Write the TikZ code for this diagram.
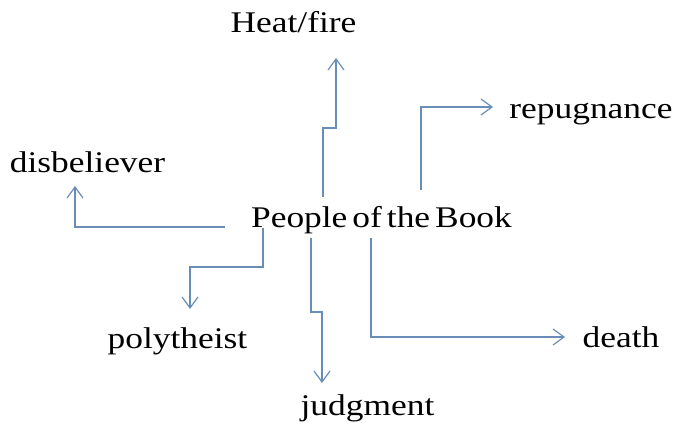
\documentclass[tikz,border=0pt]{standalone}
\usepackage{fontspec}
\setmainfont{Liberation Serif}[FakeStretch=1.18]
\usetikzlibrary{arrows.meta}
\definecolor{linkblue}{RGB}{104,142,184}

\begin{document}
\begin{tikzpicture}[x=1pt,y=1pt]
				\tikzstyle{word}=[inner sep=0pt, anchor=base, text=black,
				font=\fontsize{30}{36}\selectfont]
				\tikzstyle{link}=[draw=linkblue, line width=1.2pt,
				-{Straight Barb[length=11pt,width=16pt]}]
				\useasboundingbox (0,0) rectangle (676,428);
				% the words
				\node[word] (book) at (381.5,200) {\spaceskip=5pt People of the Book};
				\node[word] (heat) at (293.5,395) {Heat/fire};
				\node[word] (repug) at (591,309) {repugnance};
				\node[word] (disb) at (87.5,255) {disbeliever};
				\node[word] (poly) at (177.5,80) {polytheist};
				\node[word] (death) at (621,81) {death};
				\node[word] (judg) at (367.5,13) {judgment};
				% the arrows
				\draw[link] ([xshift=-58.5pt,yshift=31pt]book.base) -- ++(0,69) -- ++(13,0)
				-- ([xshift=42.5pt,yshift=-25pt]heat.base);
				\draw[link] ([xshift=39.5pt,yshift=38pt]book.base)
				|- ([xshift=-98pt,yshift=12pt]repug.base);
				\draw[link] ([xshift=-156.5pt,yshift=1pt]book.base)
				-| ([xshift=-12.5pt,yshift=-13pt]disb.base);
				\draw[link] ([xshift=-118.5pt]book.base) -- ++(0,-39)
				-| ([xshift=12.5pt,yshift=39pt]poly.base);
				\draw[link] ([xshift=-70.5pt,yshift=-10pt]book.base) -- ++(0,-74) -- ++(11,0)
				-- ([xshift=-45.5pt,yshift=32pt]judg.base);
				\draw[link] ([xshift=-10.5pt,yshift=-10pt]book.base)
				|- ([xshift=-56pt,yshift=10pt]death.base);
\end{tikzpicture}
\end{document}
